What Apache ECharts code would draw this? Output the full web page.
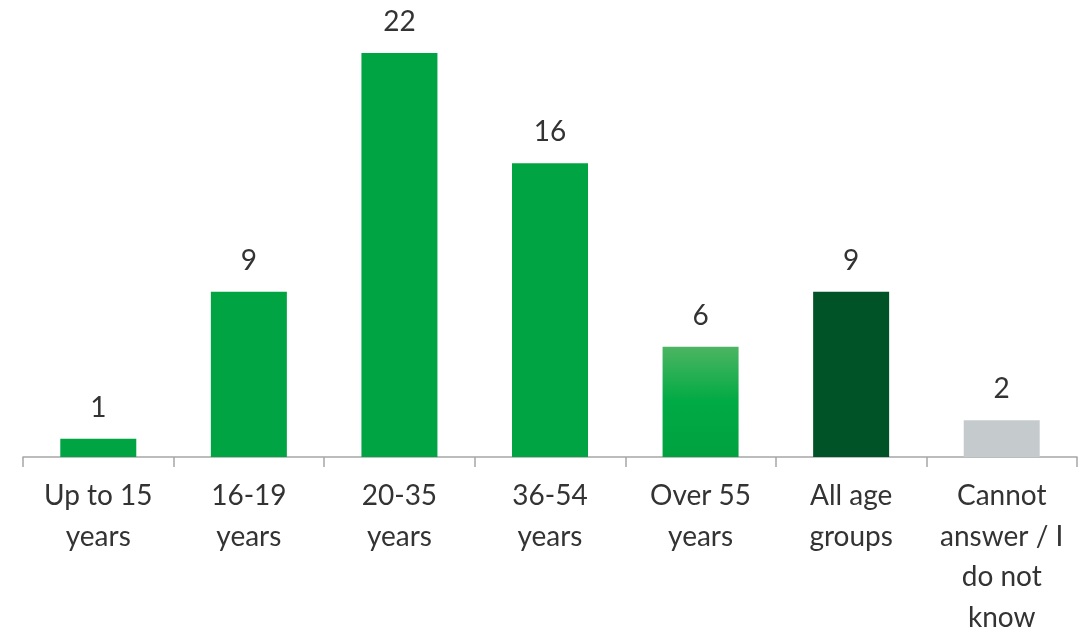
<!DOCTYPE html>
<html>
<head>
<meta charset="utf-8">
<script src="https://cdn.jsdelivr.net/npm/echarts@6/dist/echarts.min.js"></script>
<style>
  html, body { margin: 0; padding: 0; background: #fff; }
  #chart { width: 1082px; height: 629px; }
</style>
</head>
<body>
<div id="chart"></div>
<script>
var categories = ['Up to 15\nyears', '16-19\nyears', '20-35\nyears', '36-54\nyears', 'Over 55\nyears', 'All age\ngroups', 'Cannot\nanswer / I\ndo not\nknow']
var values = [1, 9, 22, 16, 6, 9, 2]
var green = '#00a443'
var colors = [
  green, green, green, green,
  new echarts.graphic.LinearGradient(0, 0, 0, 1, [
    { offset: 0, color: '#4cb562' },
    { offset: 0.5, color: '#00aa44' },
    { offset: 1, color: '#00a23f' }
  ]),
  '#005326',
  '#c5cbcd'
]

var chart = echarts.init(document.getElementById('chart'))
var font = 'Lato, "Open Sans", sans-serif'

var option = {
  animation: false,
  grid: { left: 23, right: 5, top: 53, bottom: 172, outerBoundsMode: 'none', containLabel: false },
  xAxis: {
    type: 'category',
    data: categories,
    axisLine: { lineStyle: { color: '#a6a6a6', width: 1.5 } },
    axisTick: { show: true, length: 10, lineStyle: { color: '#a6a6a6', width: 1.5 } },
    axisLabel: {
      interval: 0,
      margin: 19,
      color: '#333',
      fontSize: 28,
      lineHeight: 40.5,
      fontFamily: font
    }
  },
  yAxis: {
    type: 'value',
    min: 0,
    max: 22,
    show: false,
    splitLine: { show: false }
  },
  series: [{
    type: 'bar',
    barWidth: 76,
    data: values.map(function (v, i) {
      return { value: v, itemStyle: { color: colors[i] } }
    }),
    label: {
      show: true,
      position: 'top',
      distance: 17,
      color: '#333',
      fontSize: 28,
      fontFamily: font
    }
  }]
}
chart.setOption(option)
</script>
</body>
</html>
